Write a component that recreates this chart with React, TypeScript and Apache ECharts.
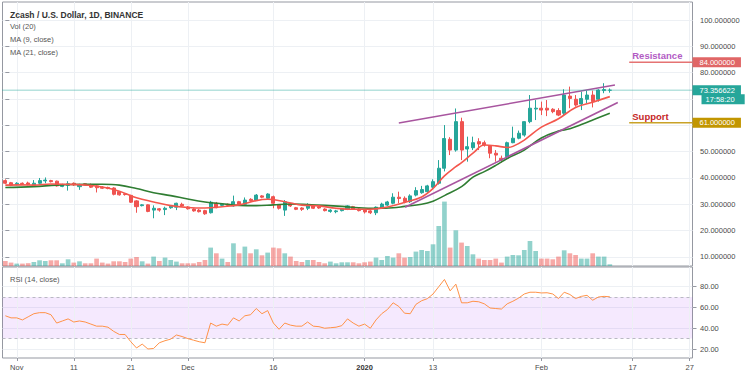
import React, { useEffect, useRef } from 'react';
import * as echarts from 'echarts';

// ---------- categories ----------
const START = Date.UTC(2019, 9, 30);
const DAY_COUNT = 121; // 2019-10-30 .. 2020-02-27
const dates: string[] = Array.from({ length: DAY_COUNT }, (_, i) =>
  new Date(START + i * 86400000).toISOString().slice(0, 10)
);

const axisLabels: [string, string][] = [
  ['2019-11-01', 'Nov'], ['2019-11-11', '11'], ['2019-11-21', '21'], ['2019-12-01', 'Dec'],
  ['2019-12-16', '16'], ['2020-01-01', '2020'], ['2020-01-13', '13'], ['2020-02-01', 'Feb'],
  ['2020-02-17', '17'], ['2020-02-27', '27'],
];

// ---------- OHLC (2019-10-30 .. 2020-02-13) ----------
const opens = [
  39.0, 38.2, 37.5, 38.0, 38.1, 37.2, 38.0, 38.9, 39.0, 38.8,
  36.8, 37.2, 38.0, 36.7, 37.8, 37.5, 37.0, 36.5, 36.4, 36.2,
  34.8, 34.0, 33.4, 31.3, 29.5, 29.8, 27.8, 28.3, 28.0, 28.7,
  28.9, 30.0, 29.0, 28.2, 27.8, 27.6, 26.8, 30.4, 29.6, 30.0,
  29.4, 31.0, 30.0, 31.9, 31.6, 33.2, 32.3, 32.9, 29.7, 27.8,
  30.1, 28.7, 28.6, 28.5, 29.4, 29.1, 28.2, 27.3, 27.2, 27.6,
  28.1, 29.1, 28.2, 27.8, 27.5, 26.8, 28.5, 29.7, 30.4, 32.7,
  32.3, 31.0, 33.5, 34.4, 34.8, 36.5, 38.0, 43.7, 54.7, 50.6,
  61.4, 51.0, 51.5, 53.8, 53.4, 52.1, 49.4, 47.5, 48.1, 53.4,
  55.1, 56.3, 61.4, 66.2, 66.5, 66.5, 66.1, 65.6, 64.6, 71.1,
  69.9, 68.1, 69.9, 71.5, 69.9, 73.2, 73.3,
];
const closes = [
  38.0, 37.2, 38.0, 37.8, 37.5, 38.0, 39.0, 39.2, 38.6, 37.0,
  37.4, 37.8, 37.4, 37.5, 37.6, 36.5, 36.3, 36.1, 36.0, 33.8,
  33.6, 33.7, 30.8, 29.1, 29.8, 27.3, 28.5, 27.8, 28.5, 29.3,
  30.4, 29.4, 28.3, 27.5, 27.2, 26.4, 30.8, 28.7, 30.1, 29.6,
  31.0, 30.0, 31.6, 31.4, 33.5, 32.7, 33.9, 30.4, 28.5, 31.0,
  29.4, 28.1, 28.1, 29.7, 28.5, 28.6, 27.6, 27.8, 27.5, 28.2,
  29.4, 28.2, 27.6, 27.1, 26.8, 28.9, 30.1, 30.9, 32.7, 32.2,
  31.0, 33.2, 35.2, 35.6, 37.0, 38.6, 43.7, 55.0, 50.6, 61.4,
  50.6, 51.9, 53.4, 52.9, 52.5, 49.4, 48.7, 46.8, 53.4, 55.1,
  57.0, 61.4, 66.5, 66.5, 65.8, 65.8, 65.2, 63.9, 71.5, 70.2,
  67.7, 70.2, 71.5, 69.0, 73.4, 73.6, 73.356622,
];
const lows = [
  37.7, 36.9, 37.2, 37.5, 37.2, 36.6, 37.5, 38.0, 38.3, 36.7,
  36.5, 35.2, 37.0, 35.5, 37.3, 36.2, 34.5, 35.8, 35.7, 33.4,
  33.3, 33.3, 30.5, 26.8, 29.2, 27.0, 24.7, 27.2, 25.9, 28.3,
  27.8, 29.0, 28.0, 27.2, 26.9, 26.0, 26.5, 28.5, 29.3, 29.3,
  29.1, 29.7, 29.7, 31.0, 31.4, 32.3, 32.0, 28.5, 28.0, 25.6,
  29.0, 27.8, 27.5, 27.8, 28.2, 28.3, 27.3, 26.8, 26.6, 27.3,
  27.8, 27.9, 27.3, 26.5, 26.3, 25.9, 28.2, 29.4, 30.0, 30.4,
  30.4, 30.5, 33.0, 34.0, 34.4, 35.8, 37.5, 42.5, 48.7, 50.0,
  46.8, 46.2, 50.6, 50.6, 51.9, 47.5, 46.2, 45.8, 47.8, 53.2,
  54.7, 55.7, 60.8, 62.0, 63.9, 63.5, 64.6, 63.5, 63.9, 66.5,
  67.1, 65.8, 68.4, 66.8, 69.0, 72.2, 72.4,
];
const highs = [
  39.5, 38.5, 38.4, 38.3, 38.6, 39.2, 40.0, 40.2, 39.3, 39.0,
  37.8, 38.8, 38.3, 37.8, 38.0, 37.9, 37.3, 36.9, 36.7, 36.5,
  35.0, 34.2, 33.6, 31.6, 30.1, 30.0, 29.6, 28.6, 29.1, 29.7,
  30.6, 30.6, 29.3, 28.5, 28.2, 27.9, 31.3, 30.9, 30.5, 30.3,
  33.3, 31.3, 32.6, 32.3, 33.9, 33.5, 34.2, 33.3, 30.0, 31.6,
  30.4, 29.0, 28.9, 30.4, 29.7, 29.4, 28.5, 28.1, 27.9, 28.5,
  29.7, 29.4, 28.5, 28.1, 27.8, 29.2, 30.6, 31.3, 34.2, 34.8,
  33.0, 33.8, 36.5, 37.0, 37.4, 39.5, 46.8, 60.1, 55.5, 66.4,
  62.9, 55.7, 55.7, 55.1, 54.2, 52.5, 50.6, 48.5, 53.8, 59.5,
  58.0, 61.5, 71.5, 69.6, 69.0, 69.6, 66.5, 66.5, 73.7, 74.7,
  71.5, 72.8, 73.2, 73.2, 73.7, 76.0, 74.0,
];
const volumes = [
  200, 136, 96, 96, 112, 160, 228, 200, 228, 228,
  108, 268, 136, 188, 108, 108, 296, 136, 96, 188,
  188, 160, 296, 360, 188, 96, 376, 200, 336, 240,
  176, 108, 108, 108, 160, 240, 736, 508, 296, 160,
  908, 508, 776, 508, 668, 428, 536, 736, 708, 508,
  376, 200, 160, 240, 240, 160, 108, 176, 108, 148,
  148, 148, 108, 148, 176, 336, 240, 400, 336, 508,
  336, 360, 576, 640, 600, 868, 1600, 2576, 736, 1428,
  936, 800, 468, 296, 240, 240, 296, 136, 376, 440,
  428, 640, 1000, 600, 296, 296, 268, 376, 628, 508,
  440, 296, 296, 508, 376, 376, 68,
];
const rsi = [
  52, 50, 50, 48, 51, 54, 55, 55, 53, 45,
  47, 49, 46, 47, 46, 44, 42, 42, 41, 37,
  34, 34, 27, 21, 24.7, 20, 20.5, 26, 28, 29.5,
  33.5, 32, 30, 28.5, 27, 26, 45, 42, 44, 43,
  50, 47, 52, 53, 59, 54, 57, 45, 39, 45,
  43, 42, 42, 46, 42, 41.5, 40, 40.5, 41, 42.5,
  49, 45, 42, 44, 40, 48, 54, 58, 64.5, 61,
  54.5, 54, 63, 66.5, 68.5, 73, 80, 87, 76, 82.5,
  64.5, 64.5, 66, 65.5, 63.5, 59.5, 59, 58.5, 63.5, 66,
  69, 73, 74.7, 74.7, 74, 74.2, 73, 68.6, 74.7, 72.5,
  68.6, 70.7, 71.7, 67, 70.1, 70.7, 70.3,
];
// moving averages: [day index, value]
const ma9Points = [
  [0, 37.3], [3, 37.4], [5, 37.3], [8, 37.7], [11, 37.6], [14, 37.3], [17, 36.6], [20, 35.0],
  [23, 32.5], [26, 30.9], [29, 29.5], [32, 28.8], [35, 28.6], [38, 29.1], [41, 29.8], [44, 31.4],
  [46, 31.9], [49, 31.0], [52, 29.7], [55, 29.4], [58, 28.5], [61, 28.1], [64, 28.1], [67, 29.0],
  [70, 30.7], [73, 32.8], [75, 36.0], [77, 40.8], [79, 44.3], [80, 45.8], [82, 49.4], [84, 52.5],
  [86, 52.2], [88, 51.6], [89, 52.0], [91, 54.4], [94, 59.3], [97, 62.5], [100, 66.8], [103, 68.8],
  [106, 70.9],
];
const ma21Points = [
  [0, 36.4], [5, 36.7], [9, 37.3], [14, 37.6], [17, 37.6], [20, 37.3], [23, 36.0], [26, 34.4],
  [29, 33.3], [32, 32.0], [35, 30.9], [38, 30.2], [41, 29.6], [44, 29.5], [47, 29.8], [50, 30.1],
  [53, 29.9], [56, 29.6], [59, 29.2], [62, 28.7], [65, 28.5], [68, 28.7], [70, 29.2], [73, 30.0],
  [75, 31.2], [77, 33.3], [80, 36.7], [82, 40.3], [84, 42.4], [86, 44.8], [88, 47.4], [91, 50.6],
  [94, 55.2], [97, 57.8], [99, 58.7], [101, 60.3], [103, 62.0], [106, 64.6],
];
const upperTrend = [[69, 60.9], [106.9, 75.3]];
const lowerTrend = [[70.1, 28.9], [107.4, 68.7]];
const levelStart = 109.4;
const resistance = 84;
const support = 61;
const lastPrice = 73.356622;
const countdown = '17:58:20';
const priceTicks = [10, 20, 30, 40, 50, 60, 70, 80, 90, 100];
// 60 and 70 sit behind the price boxes in the reference
const priceLabels = [10, 20, 30, 40, 50, 80, 90, 100];
const rsiTicks = [20, 40, 60, 80];
const rsiBand = [30, 70];

const FONT = '"Liberation Sans", Arial, sans-serif';
const UP = '#26a69a';
const DOWN = '#ef5350';
const UP_A = 'rgba(38,166,154,0.5)';
const DOWN_A = 'rgba(239,83,80,0.5)';
const GRID_LINE = '#edf0f4';
const SCALE_LINE = '#9598a1';
const TEXT = '#4a4a4a';

export default function App() {
  const ref = useRef<HTMLDivElement>(null);
  useEffect(() => {
    if (!ref.current) return;
    const chart = echarts.init(ref.current, undefined, { renderer: 'svg' });
    const labelMap: Record<string, string> = Object.fromEntries(axisLabels);
    const labelIdx = new Set(axisLabels.map(([d]) => dates.indexOf(d)));
    const showAt = (i: number) => labelIdx.has(i);
    const idxMin = -0.5;
    const idxMax = DAY_COUNT - 0.5;
    const vGrid = axisLabels.map(([d]) => ({ xAxis: d }));

    const boxLabel = (text: string, bg: string, extra: any = {}) => ({
      show: true,
      formatter: text,
      color: '#fff',
      backgroundColor: bg,
      fontSize: 7.5,
      lineHeight: 9,
      padding: [1, 6, 0, 7],
      distance: 0,
      fontFamily: FONT,
      ...extra,
    });
    const legendText = (text: string, y: number, extra: any = {}) => ({
      type: 'text', x: 10, y, z: 100, zlevel: 0,
      style: { text, fill: '#555', fontSize: 7.5, fontFamily: FONT, verticalAlign: 'middle', ...extra },
    });

    const option: any = {
      animation: false,
      textStyle: { fontFamily: FONT },
      graphic: [
        legendText('Zcash / U.S. Dollar, 1D, BINANCE', 15, { fill: '#333', fontSize: 8.5, fontWeight: 'bold' }),
        legendText('Vol (20)', 26.3),
        legendText('MA (9, close)', 39.3),
        legendText('MA (21, close)', 52.3),
        legendText('RSI (14, close)', 279.5),
      ],
      grid: [
        { left: 2.5, right: 57.5, top: 2, bottom: 109, show: true, borderColor: SCALE_LINE, borderWidth: 1 },
        { left: 2.5, right: 57.5, top: 267, bottom: 17, show: true, borderColor: SCALE_LINE, borderWidth: 1 },
      ],
      xAxis: [
        { type: 'category', gridIndex: 0, data: dates, axisLine: { show: false }, axisTick: { show: false }, axisLabel: { show: false }, splitLine: { show: false } },
        { type: 'value', gridIndex: 0, min: idxMin, max: idxMax, show: false },
        {
          type: 'category', gridIndex: 1, data: dates, axisLine: { show: false },
          axisTick: { show: true, alignWithLabel: true, interval: showAt, length: 3, lineStyle: { color: SCALE_LINE } },
          axisLabel: {
            interval: showAt, fontSize: 7.5, color: TEXT, margin: 5,
            formatter: (v: string) => (labelMap[v] === '2020' ? '{b|2020}' : labelMap[v] || ''),
            rich: { b: { fontWeight: 'bold', color: '#333', fontSize: 7.5, fontFamily: FONT } },
          },
          splitLine: { show: false },
        },
      ],
      yAxis: [
        {
          type: 'value', gridIndex: 0, position: 'right', min: 6.57, max: 106.84, splitNumber: 10,
          axisLine: { show: false },
          axisTick: { show: true, customValues: priceTicks, length: 4, lineStyle: { color: SCALE_LINE } },
          axisLabel: { customValues: priceLabels, formatter: (v: number) => v.toFixed(6), fontSize: 7.5, color: TEXT, margin: 7.5 },
          splitLine: { show: true, lineStyle: { color: GRID_LINE } },
        },
        { type: 'value', gridIndex: 0, min: 0, max: 10560, show: false },
        {
          type: 'value', gridIndex: 1, position: 'right', min: 11.33, max: 99, splitNumber: 4,
          axisLine: { show: false },
          axisTick: { show: true, customValues: rsiTicks, length: 4, lineStyle: { color: SCALE_LINE } },
          axisLabel: { customValues: rsiTicks, formatter: (v: number) => v.toFixed(2), fontSize: 7.5, color: TEXT, margin: 7.5 },
          splitLine: { show: true, lineStyle: { color: GRID_LINE } },
        },
      ],
      series: [
        {
          name: 'Vol', type: 'bar', xAxisIndex: 0, yAxisIndex: 1, barWidth: '82%',
          data: volumes.map((v, i) => ({ value: v, itemStyle: { color: closes[i] >= opens[i] ? UP_A : DOWN_A } })),
          markLine: { silent: true, symbol: 'none', z: 1, label: { show: false }, lineStyle: { color: GRID_LINE, width: 1, type: 'solid' }, data: vGrid },
        },
        {
          name: 'ZECUSD', type: 'candlestick', xAxisIndex: 0, yAxisIndex: 0, barWidth: '62%',
          data: opens.map((o, i) => [o, closes[i], lows[i], highs[i]]),
          itemStyle: { color: UP, color0: DOWN, borderColor: UP, borderColor0: DOWN, borderWidth: 1 },
        },
        {
          name: 'MA21', type: 'line', xAxisIndex: 1, yAxisIndex: 0, data: ma21Points, smooth: 0.4,
          symbol: 'none', lineStyle: { color: '#2f7d32', width: 1.6 }, z: 3,
        },
        {
          name: 'MA9', type: 'line', xAxisIndex: 1, yAxisIndex: 0, data: ma9Points, smooth: 0.4,
          symbol: 'none', lineStyle: { color: '#f4574d', width: 1.6 }, z: 3,
        },
        {
          name: 'Upper trend', type: 'line', xAxisIndex: 1, yAxisIndex: 0, data: upperTrend,
          symbol: 'none', lineStyle: { color: '#a8559f', width: 1.6 }, z: 4,
        },
        {
          name: 'Lower trend', type: 'line', xAxisIndex: 1, yAxisIndex: 0, data: lowerTrend,
          symbol: 'none', lineStyle: { color: '#a8559f', width: 1.6 }, z: 4,
        },
        {
          name: 'Last', type: 'line', xAxisIndex: 1, yAxisIndex: 0, clip: false,
          data: [[idxMin, lastPrice], [idxMax, lastPrice]], symbol: 'none',
          lineStyle: { color: UP, width: 1, type: 'dotted' }, z: 5,
          endLabel: boxLabel(lastPrice.toFixed(6), UP),
        },
        {
          name: 'Countdown', type: 'line', xAxisIndex: 1, yAxisIndex: 0, clip: false,
          data: [[idxMax - 1, lastPrice], [idxMax, lastPrice]], symbol: 'none',
          lineStyle: { opacity: 0, width: 0 }, z: 5,
          endLabel: boxLabel(countdown, UP, { offset: [9, 9], padding: [1, 10, 0, 4] }),
        },
        {
          name: 'Resistance', type: 'line', xAxisIndex: 1, yAxisIndex: 0, clip: false,
          data: [
            { value: [levelStart, resistance], label: { show: true, formatter: 'Resistance', position: 'right', distance: 3, offset: [0, -7], color: '#b25bc4', fontWeight: 'bold', fontSize: 9.5, fontFamily: FONT } },
            [idxMax, resistance],
          ],
          symbol: 'circle', symbolSize: 0.1, showSymbol: true,
          lineStyle: { color: '#e57373', width: 1.5 }, itemStyle: { color: '#e57373' }, z: 5,
          endLabel: boxLabel(resistance.toFixed(6), '#e06666'),
        },
        {
          name: 'Support', type: 'line', xAxisIndex: 1, yAxisIndex: 0, clip: false,
          data: [
            { value: [levelStart, support], label: { show: true, formatter: 'Support', position: 'right', distance: 3, offset: [0, -6], color: '#c62828', fontWeight: 'bold', fontSize: 9.5, fontFamily: FONT } },
            [idxMax, support],
          ],
          symbol: 'circle', symbolSize: 0.1, showSymbol: true,
          lineStyle: { color: '#c9a227', width: 1.5 }, itemStyle: { color: '#c9a227' }, z: 5,
          endLabel: boxLabel(support.toFixed(6), '#c29600'),
        },
        {
          name: 'RSI', type: 'line', xAxisIndex: 2, yAxisIndex: 2, data: rsi, symbol: 'none',
          lineStyle: { color: '#ff9248', width: 1 }, z: 4,
          markArea: { silent: true, itemStyle: { color: 'rgba(156, 39, 246, 0.1)' }, data: [[{ yAxis: rsiBand[0] }, { yAxis: rsiBand[1] }]] },
          markLine: {
            silent: true, symbol: 'none', z: 1, label: { show: false },
            data: [
              ...vGrid.map((g) => ({ ...g, lineStyle: { color: GRID_LINE, width: 1, type: 'solid' } })),
              { yAxis: rsiBand[0], lineStyle: { color: '#b9b9c3', width: 1, type: [3, 3] } },
              { yAxis: rsiBand[1], lineStyle: { color: '#b9b9c3', width: 1, type: [3, 3] } },
            ],
          },
        },
      ],
    };
    chart.setOption(option);
    return () => chart.dispose();
  }, []);
  return <div ref={ref} style={{ position: 'absolute', left: 0, top: 0, width: 750, height: 375 }} />;
}
